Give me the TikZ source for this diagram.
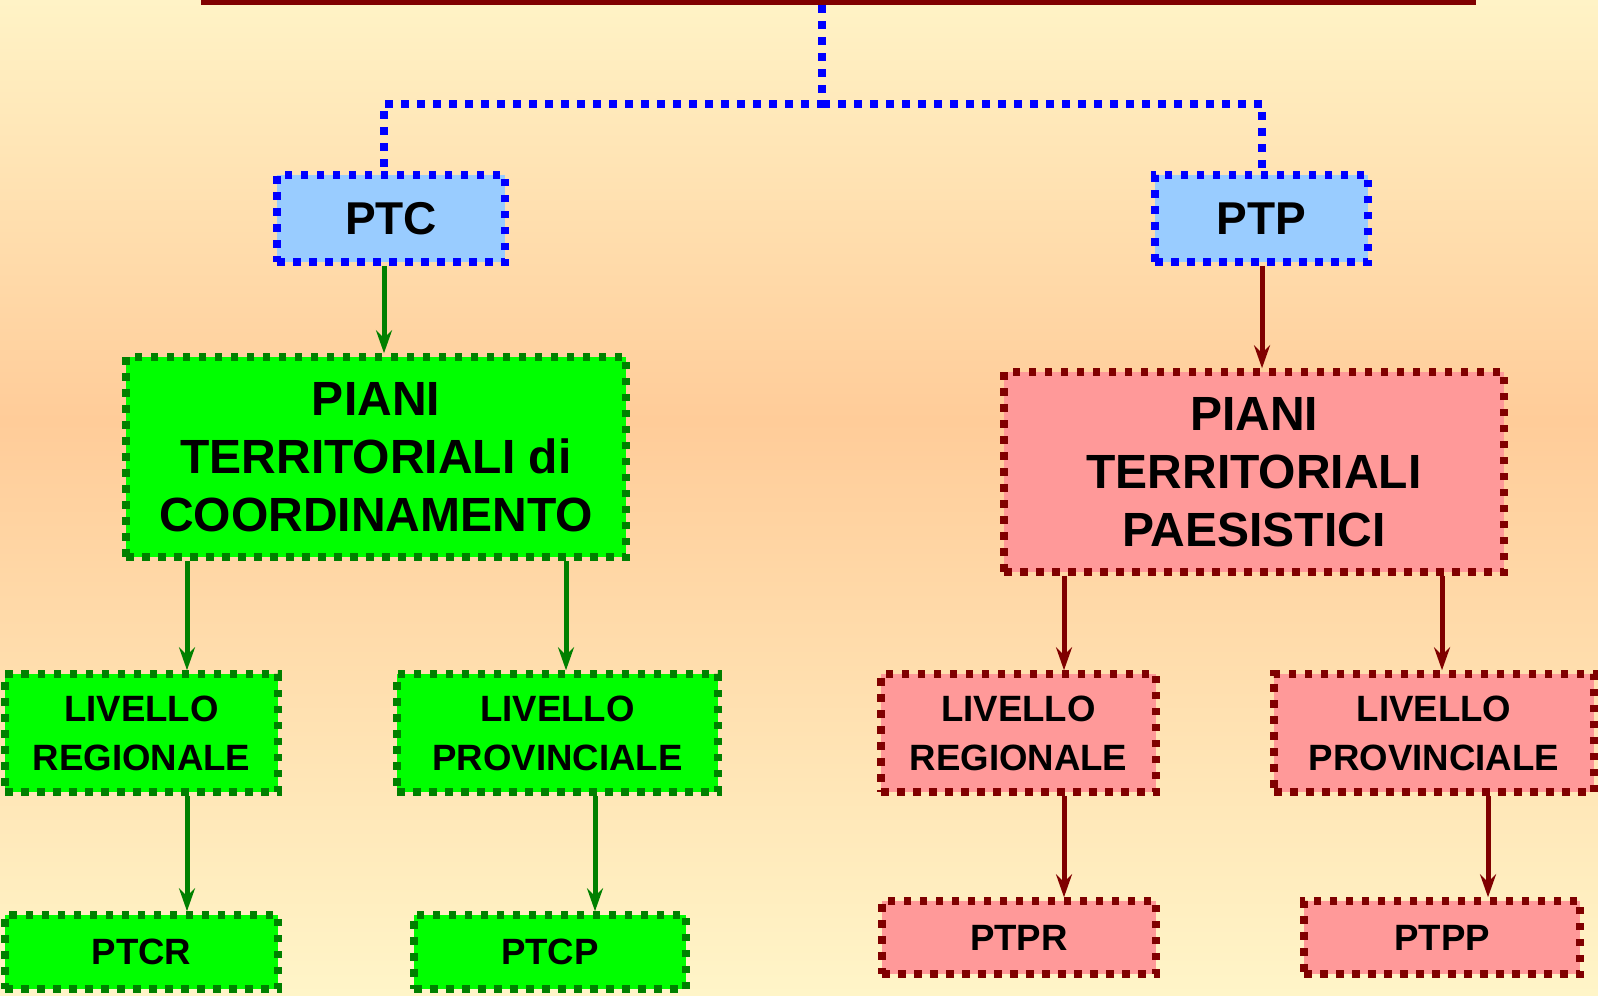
\documentclass[tikz,border=0pt]{standalone}
\usepackage{fontspec}
\setmainfont{Liberation Sans}
\usetikzlibrary{arrows.meta}
\definecolor{bgtop}{RGB}{255,243,198}
\definecolor{bgmid}{RGB}{255,204,153}
\definecolor{bgbot}{RGB}{255,245,200}
\definecolor{maroon}{RGB}{128,0,0}
\definecolor{dgreen}{RGB}{0,128,0}
\definecolor{lgreen}{RGB}{0,255,0}
\definecolor{pinkfill}{RGB}{255,153,153}
\definecolor{skyfill}{RGB}{153,204,255}
\definecolor{pureblue}{RGB}{0,0,255}
\tikzset{
  dotline/.style={line width=3.75pt, dash pattern=on 3.75pt off 4.25pt, line cap=butt},
  box/.style={dotline, inner sep=0pt, align=center, text=black, font=\bfseries},
  bluebox/.style={box, draw=pureblue, fill=skyfill, font=\bfseries\fontsize{23}{28}\selectfont},
  greenbig/.style={box, draw=dgreen, fill=lgreen, font=\bfseries\fontsize{24}{29}\selectfont},
  pinkbig/.style={box, draw=maroon, fill=pinkfill, font=\bfseries\fontsize{24}{29}\selectfont},
  greensmall/.style={box, draw=dgreen, fill=lgreen, font=\bfseries\fontsize{18.3}{24.5}\selectfont},
  pinksmall/.style={box, draw=maroon, fill=pinkfill, font=\bfseries\fontsize{18.3}{24.5}\selectfont},
  blueconn/.style={dotline, draw=pureblue},
  garrow/.style={draw=dgreen, line width=2.5pt, -{Stealth[length=11.5pt,width=8pt,inset=4pt]}},
  rarrow/.style={draw=maroon, line width=2.5pt, -{Stealth[length=11.5pt,width=8pt,inset=4pt]}},
}
\begin{document}
\begin{tikzpicture}[x=0.5pt,y=-0.5pt]
  % background
  \useasboundingbox (0,0) rectangle (1598,995);
  \shade[top color=bgtop, bottom color=bgmid] (0,0) rectangle (1598,420);
  \shade[top color=bgmid, bottom color=bgbot] (0,420) rectangle (1598,995);

  % top bar
  \node[fill=maroon, inner sep=0pt, minimum width=637.5pt, minimum height=2.5pt] (root) at (838,2.5) {};

  % first level
  \node[bluebox, minimum width=114pt, minimum height=43.5pt] (ptc) at (391,218.5) {PTC};
  \node[bluebox, minimum width=106.5pt, minimum height=43.5pt] (ptp) at (1261.5,218.5) {PTP};

  % second level
  \node[greenbig, minimum width=250pt, minimum height=100pt] (gbig) at (376,457)
    {PIANI\\TERRITORIALI di\\COORDINAMENTO};
  \node[pinkbig, minimum width=250pt, minimum height=100pt] (rbig) at (1254,472)
    {PIANI\\TERRITORIALI\\PAESISTICI};

  % levels
  \node[greensmall, minimum width=136.5pt, minimum height=59pt] (greg) at (141.5,733) {LIVELLO\\REGIONALE};
  \node[greensmall, minimum width=160.5pt, minimum height=59pt] (gprov) at (557.5,733) {LIVELLO\\PROVINCIALE};
  \node[pinksmall, minimum width=137.5pt, minimum height=59pt] (rreg) at (1018.5,733) {LIVELLO\\REGIONALE};
  \node[pinksmall, minimum width=160pt, minimum height=59pt] (rprov) at (1434,733) {LIVELLO\\PROVINCIALE};

  % plans
  \node[greensmall, minimum width=136.5pt, minimum height=37pt] (ptcr) at (141.5,952) {PTCR};
  \node[greensmall, minimum width=136pt, minimum height=37pt] (ptcp) at (550,952) {PTCP};
  \node[pinksmall, minimum width=137pt, minimum height=36.5pt] (ptpr) at (1019,937.5) {PTPR};
  \node[pinksmall, minimum width=138pt, minimum height=36.5pt] (ptpp) at (1442,937.5) {PTPP};

  % connector columns
  \coordinate (hub) at (822,104);
  \coordinate (xa) at (384,0);
  \coordinate (xb) at (1262,0);
  \coordinate (xc) at (187,0);
  \coordinate (xd) at (566,0);
  \coordinate (xe) at (595,0);
  \coordinate (xf) at (1064,0);
  \coordinate (xg) at (1442,0);
  \coordinate (xh) at (1488,0);

  % dotted tree
  \draw[blueconn] (root.south -| hub) -- (hub) -| (ptc.north -| xa);
  \draw[blueconn] (hub) -| (ptp.north -| xb);

  % arrows, green branch
  \draw[garrow] (ptc.south -| xa) -- (gbig.north -| xa);
  \draw[garrow] (gbig.south -| xc) -- (greg.north -| xc);
  \draw[garrow] (gbig.south -| xd) -- (gprov.north -| xd);
  \draw[garrow] (greg.south -| xc) -- (ptcr.north -| xc);
  \draw[garrow] (gprov.south -| xe) -- (ptcp.north -| xe);

  % arrows, red branch
  \draw[rarrow] (ptp.south -| xb) -- (rbig.north -| xb);
  \draw[rarrow] (rbig.south -| xf) -- (rreg.north -| xf);
  \draw[rarrow] (rbig.south -| xg) -- (rprov.north -| xg);
  \draw[rarrow] (rreg.south -| xf) -- (ptpr.north -| xf);
  \draw[rarrow] (rprov.south -| xh) -- (ptpp.north -| xh);
\end{tikzpicture}
\end{document}
